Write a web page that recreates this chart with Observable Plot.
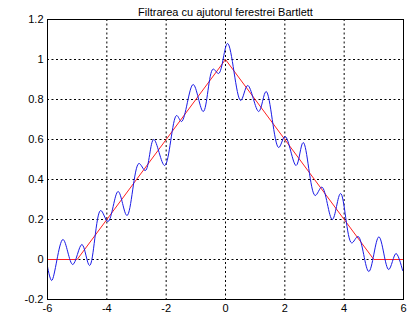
<!DOCTYPE html>
<html><head><meta charset="utf-8">
<script src="https://cdn.jsdelivr.net/npm/d3@7"></script>
<script src="https://cdn.jsdelivr.net/npm/@observablehq/plot@0.6"></script>
<style>body{margin:0;background:#fff} svg{display:block}</style>
</head><body><div id="chart"></div>
<script>
const title = "Filtrarea cu ajutorul ferestrei Bartlett";
const xTicks = [-6, -4, -2, 0, 2, 4, 6];
const yTicks = [-0.2, 0, 0.2, 0.4, 0.6, 0.8, 1, 1.2];
const redX = [-6, -5, 0, 5, 6];
const redY = [0, 0, 1, 0, 0];
const blueX = [-6, -5.86, -5.48, -5.15, -4.84, -4.58, -4.21, -3.96, -3.62, -3.32, -2.92, -2.70, -2.42, -2.05, -1.65, -1.48, -1.09, -0.75, -0.42, -0.23, 0.07, 0.51, 0.75, 1.12, 1.37, 1.79, 2.01, 2.38, 2.62, 3.02, 3.25, 3.60, 3.88, 4.25, 4.47, 4.83, 5.17, 5.50, 5.75, 5.97];
const blueY = [-0.035, -0.105, 0.10, -0.025, 0.075, -0.03, 0.245, 0.19, 0.34, 0.22, 0.48, 0.445, 0.60, 0.47, 0.72, 0.69, 0.875, 0.74, 0.952, 0.93, 1.08, 0.795, 0.87, 0.74, 0.84, 0.56, 0.615, 0.47, 0.585, 0.32, 0.362, 0.20, 0.33, 0.083, 0.115, -0.06, 0.113, -0.05, 0.03, -0.055];

const red = redX.map((x, i) => ({x, y: redY[i]}));
const blue = blueX.map((x, i) => ({x, y: blueY[i]}));
const fmt = d => String(d);

const chart = Plot.plot({
  width: 414, height: 325,
  marginLeft: 47, marginRight: 11, marginTop: 19, marginBottom: 26,
  style: {fontFamily: "'Liberation Sans', Arial, sans-serif", fontSize: "11px", background: "white", color: "black"},
  x: {domain: [-6, 6], ticks: xTicks, tickFormat: fmt, tickSize: 0, tickPadding: 5, label: null},
  y: {domain: [-0.2, 1.2], ticks: yTicks, tickFormat: fmt, tickSize: 0, tickPadding: 4, label: null},
  marks: [
    Plot.gridX(xTicks, {stroke: "black", strokeOpacity: 1, strokeDasharray: "2,2.5"}),
    Plot.gridY(yTicks, {stroke: "black", strokeOpacity: 1, strokeDasharray: "2,2.5"}),
    Plot.line(red, {x: "x", y: "y", stroke: "#ff2020", strokeWidth: 1}),
    Plot.line(blue, {x: "x", y: "y", stroke: "#1a1ae6", strokeWidth: 1, curve: "catmull-rom"}),
    Plot.frame({stroke: "black"}),
    Plot.text([title], {frameAnchor: "top", dy: -11, fontSize: 11})
  ]
});
document.getElementById("chart").appendChild(chart);
</script>
</body></html>
